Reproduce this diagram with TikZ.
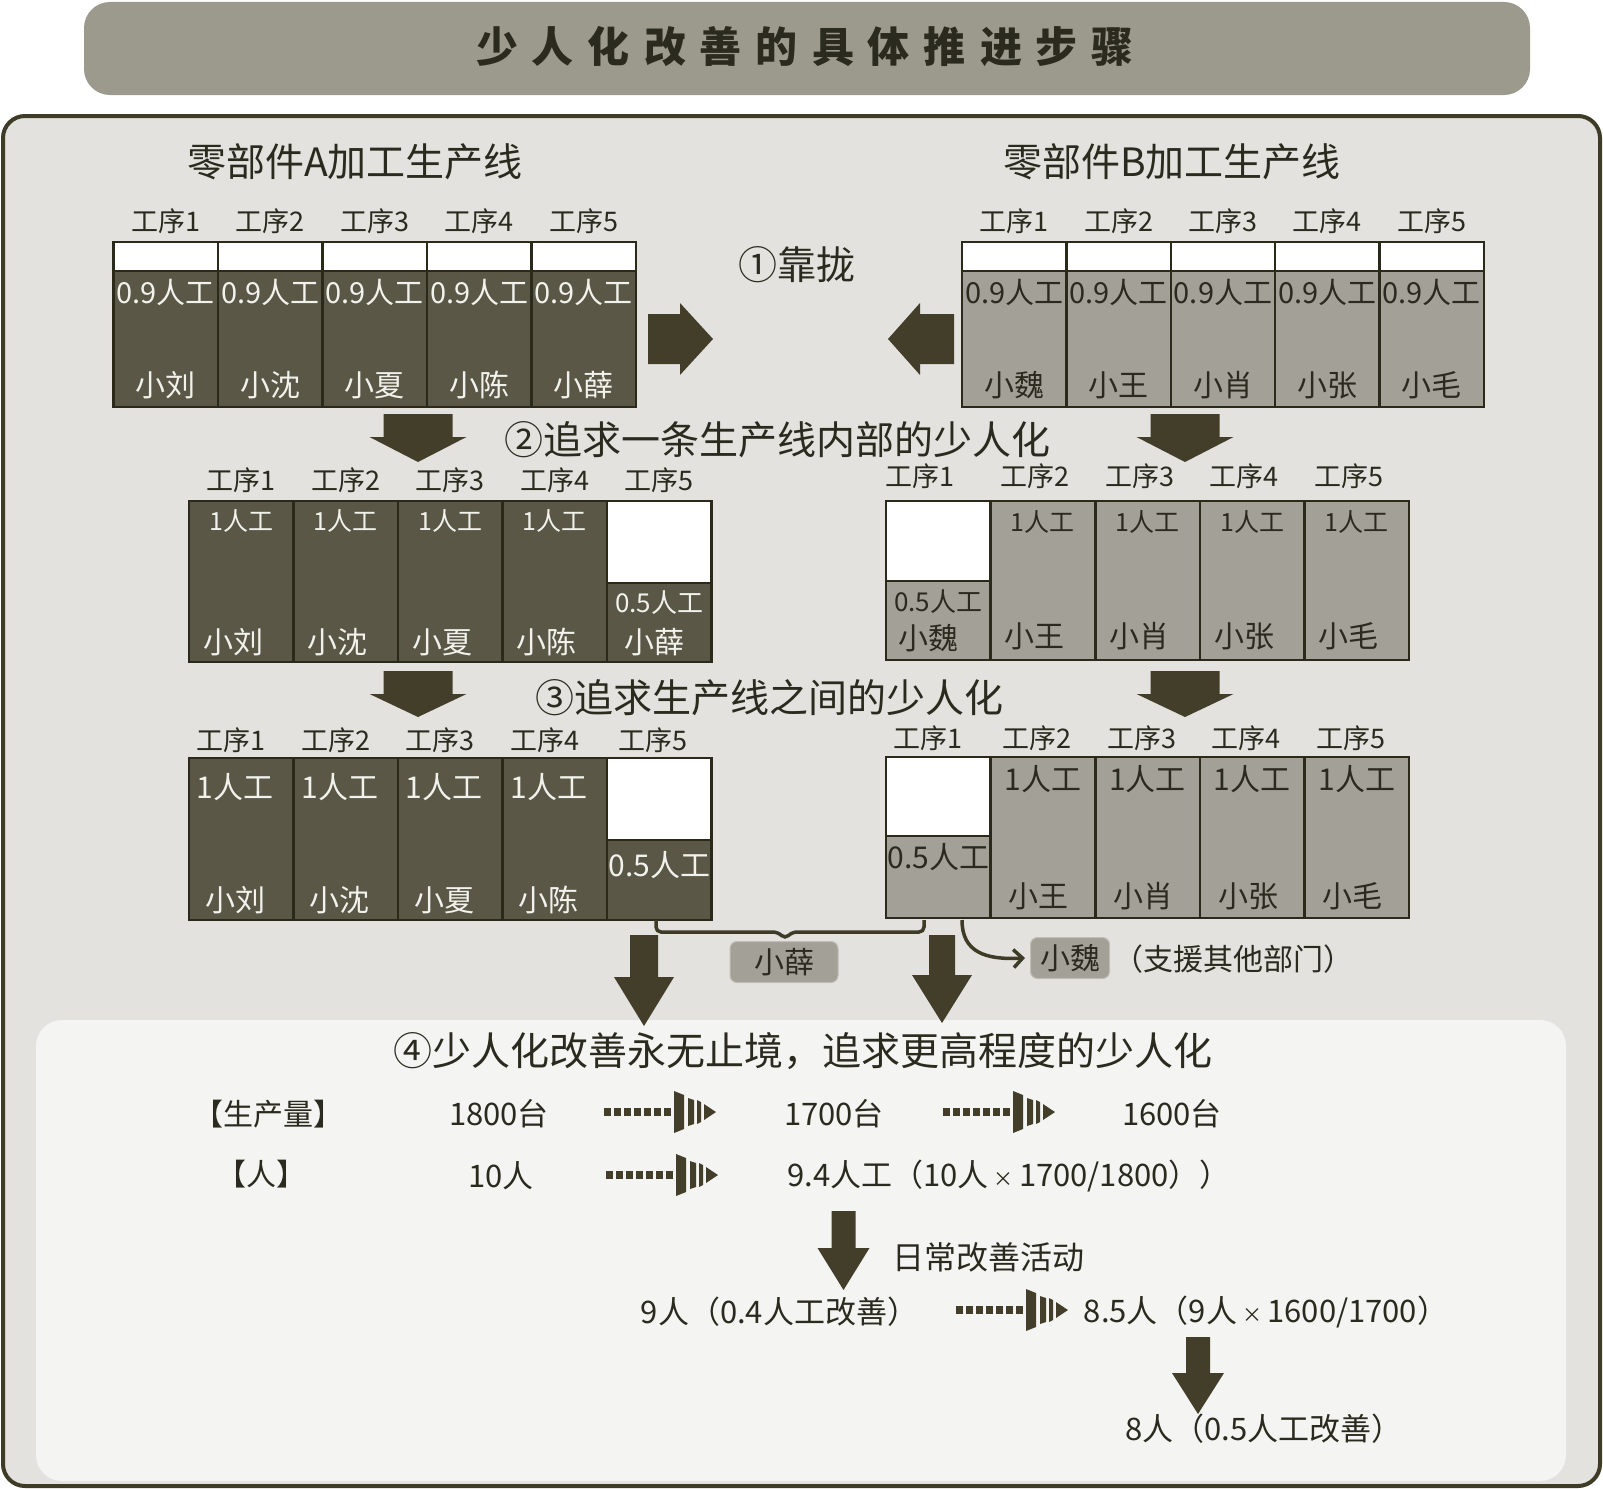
\documentclass[tikz,border=0pt]{standalone}
\usepackage{fontspec}
\setmainfont{Noto Sans CJK SC}
\usetikzlibrary{arrows.meta}
\definecolor{panelbg}{HTML}{E3E2DE}
\definecolor{lowbg}{HTML}{F4F4F2}
\definecolor{titlebg}{HTML}{9B9A8D}
\definecolor{olive}{HTML}{3E3B26}
\definecolor{cellline}{HTML}{2B2A1A}
\definecolor{darkcell}{HTML}{5A5747}
\definecolor{lightcell}{HTML}{A3A197}
\definecolor{txt}{HTML}{2B2A1F}
\definecolor{celltxt}{HTML}{F2F2EC}
\definecolor{arrowc}{HTML}{433E2A}
\newcommand{\fsz}[1]{\fontsize{#1}{#1}\selectfont}
\newcommand{\smtimes}{\,{\fsz{20}×}\,}
% block arrow pointing down: cx, top, headstart, tip, shaft half width, head half width
\newcommand{\blockdown}[6]{\fill[arrowc] (#1-#5,#2) -- (#1+#5,#2) -- (#1+#5,#3) -- (#1+#6,#3) -- (#1,#4) -- (#1-#6,#3) -- (#1-#5,#3) -- cycle;}
% dashed arrow: x0, cy
\newcommand{\dasharr}[2]{%
  \draw[arrowc, line width=8pt, dash pattern=on 7pt off 3pt] (#1,#2) -- (#1+69,#2);
  \fill[arrowc] (#1+70,#2-21) -- (#1+80,#2-17) -- (#1+80,#2+17) -- (#1+70,#2+21) -- cycle;
  \fill[arrowc] (#1+84,#2-14) -- (#1+90,#2-12) -- (#1+90,#2+12) -- (#1+84,#2+14) -- cycle;
  \fill[arrowc] (#1+93,#2-12) -- (#1+97,#2-10) -- (#1+97,#2+10) -- (#1+93,#2+12) -- cycle;
  \fill[arrowc] (#1+100,#2-8) -- (#1+112,#2) -- (#1+100,#2+8) -- cycle;}
\begin{document}
\begin{tikzpicture}[x=1pt,y=-1pt,
  cell/.style={draw=cellline, line width=2.5pt, minimum width=104.5pt, inner sep=0pt, outer sep=0pt, anchor=north},
  lbl/.style={font=\fsz{27}, text=txt, inner sep=0pt},
  wt/.style={text=celltxt, inner sep=0pt},
  dt/.style={text=txt, inner sep=0pt},
  head/.style={font=\fsz{39}, text=txt, inner sep=0pt},
  body/.style={font=\fsz{31}, text=txt, inner sep=0pt},
  tag/.style={fill=lightcell, rounded corners=7pt, draw=lightcell!70!white, line width=1pt, font=\fsz{30}, text=txt, inner sep=0pt, minimum height=41pt}]
\useasboundingbox (0,0) rectangle (1603,1488);
\fill[white] (0,0) rectangle (1603,1488);
% title bar
\fill[titlebg, rounded corners=26pt] (84,2) rectangle (1530,95);
\node[font=\fsz{42}\bfseries, text=txt, inner sep=0pt] (title) at (805,47)
 {少\hspace{14pt}人\hspace{14pt}化\hspace{14pt}改\hspace{14pt}善\hspace{14pt}的\hspace{14pt}具\hspace{14pt}体\hspace{14pt}推\hspace{14pt}进\hspace{14pt}步\hspace{14pt}骤};
% panels
\draw[olive, fill=panelbg, line width=4pt, rounded corners=22pt] (3,116) rectangle (1600,1486);
\fill[lowbg, rounded corners=26pt] (36,1020) rectangle (1566,1481);
% headings
\node[head] (hA) at (355,162) {零部件A加工生产线};
\node[head] (hB) at (1172,162) {零部件B加工生产线};
% ---------- Row 1 A
\foreach \i/\nm in {1/小刘,2/小沈,3/小夏,4/小陈,5/小薛}{
  \pgfmathsetmacro{\cx}{165.75+(\i-1)*104.5}
  \node[cell, fill=darkcell, minimum height=165pt] (a1c\i) at (\cx,242) {};
  \node[cell, fill=white, minimum height=29pt] (a1w\i) at (\cx,242) {};
  \node[lbl] (a1l\i) at (\cx,221) {工序\i};
  \node[wt, font=\fsz{29}] (a1p\i) at (\cx,292) {0.9人工};
  \node[wt, font=\fsz{30}] (a1n\i) at (\cx,385) {\nm};
}
% ---------- Row 1 B
\foreach \i/\nm in {1/小魏,2/小王,3/小肖,4/小张,5/小毛}{
  \pgfmathsetmacro{\cx}{1014.2+(\i-1)*104.4}
  \node[cell, fill=lightcell, minimum height=165pt] (b1c\i) at (\cx,242) {};
  \node[cell, fill=white, minimum height=29pt] (b1w\i) at (\cx,242) {};
  \node[lbl] (b1l\i) at (\cx,221) {工序\i};
  \node[dt, font=\fsz{29}] (b1p\i) at (\cx,292) {0.9人工};
  \node[dt, font=\fsz{30}] (b1n\i) at (\cx,385) {\nm};
}
% step 1
\node[head] (s1) at (797,265) {①靠拢};
\fill[arrowc] (648,314) -- (680,314) -- (680,303) -- (713,339) -- (680,375) -- (680,364) -- (648,364) -- cycle;
\fill[arrowc] (954,314) -- (920,314) -- (920,303) -- (888,339) -- (920,375) -- (920,364) -- (954,364) -- cycle;
% down arrows 1->2
\blockdown{418}{414}{437}{462}{34.5}{48.5}
\blockdown{1185}{414}{437}{462}{34.5}{48.5}
\node[head] (s2) at (777,440) {②追求一条生产线内部的少人化};
% ---------- Row 2 A
\foreach \i/\nm in {1/小刘,2/小沈,3/小夏,4/小陈}{
  \pgfmathsetmacro{\cx}{241.25+(\i-1)*104.5}
  \node[cell, fill=darkcell, minimum height=161pt] (a2c\i) at (\cx,501) {};
  \node[lbl] (a2l\i) at (\cx,480) {工序\i};
  \node[wt, font=\fsz{25}] (a2p\i) at (\cx,521) {1人工};
  \node[wt, font=\fsz{30}] (a2n\i) at (\cx-8,642) {\nm};
}
\node[cell, fill=darkcell, minimum height=161pt] (a2c5) at (659.25,501) {};
\node[cell, fill=white, minimum height=82pt] (a2w5) at (659.25,501) {};
\node[lbl] (a2l5) at (659.25,480) {工序5};
\node[wt, font=\fsz{26}] (a2p5) at (659.25,603) {0.5人工};
\node[wt, font=\fsz{30}] (a2n5) at (654,642) {小薛};
% ---------- Row 2 B
\node[cell, fill=lightcell, minimum height=159pt] (b2c1) at (938.3,501) {};
\node[cell, fill=white, minimum height=80pt] (b2w1) at (938.3,501) {};
\node[lbl] (b2l1) at (920,476) {工序1};
\node[dt, font=\fsz{26}] (b2p1) at (938.3,602) {0.5人工};
\node[dt, font=\fsz{30}] (b2n1) at (928,638) {小魏};
\foreach \i/\nm in {2/小王,3/小肖,4/小张,5/小毛}{
  \pgfmathsetmacro{\cx}{938.3+(\i-1)*104.6}
  \node[cell, fill=lightcell, minimum height=159pt] (b2c\i) at (\cx,501) {};
  \node[lbl] (b2l\i) at (\cx-8,476) {工序\i};
  \node[dt, font=\fsz{25}] (b2p\i) at (\cx,522) {1人工};
  \node[dt, font=\fsz{30}] (b2n\i) at (\cx-8,636) {\nm};
}
% down arrows 2->3
\blockdown{418}{671}{694}{717}{34.5}{48.5}
\blockdown{1185}{671}{694}{717}{34.5}{48.5}
\node[head] (s3) at (769,698) {③追求生产线之间的少人化};
% ---------- Row 3 A
\foreach \i/\nm in {1/小刘,2/小沈,3/小夏,4/小陈}{
  \pgfmathsetmacro{\cx}{241.25+(\i-1)*104.5}
  \node[cell, fill=darkcell, minimum height=162pt] (a3c\i) at (\cx,758) {};
  \node[lbl] (a3l\i) at (\cx-10,740) {工序\i};
  \node[wt, font=\fsz{30}] (a3p\i) at (\cx-6,787) {1人工};
  \node[wt, font=\fsz{30}] (a3n\i) at (\cx-6,900) {\nm};
}
\node[cell, fill=darkcell, minimum height=162pt] (a3c5) at (659.25,758) {};
\node[cell, fill=white, minimum height=82pt] (a3w5) at (659.25,758) {};
\node[lbl] (a3l5) at (653,740) {工序5};
\node[wt, font=\fsz{30}] (a3p5) at (659.25,865) {0.5人工};
% ---------- Row 3 B
\node[cell, fill=lightcell, minimum height=161pt] (b3c1) at (938.3,757) {};
\node[cell, fill=white, minimum height=79pt] (b3w1) at (938.3,757) {};
\node[lbl] (b3l1) at (928,738) {工序1};
\node[dt, font=\fsz{30}] (b3p1) at (938.3,857) {0.5人工};
\foreach \i/\nm in {2/小王,3/小肖,4/小张,5/小毛}{
  \pgfmathsetmacro{\cx}{938.3+(\i-1)*104.6}
  \node[cell, fill=lightcell, minimum height=161pt] (b3c\i) at (\cx,757) {};
  \node[lbl] (b3l\i) at (\cx-6,738) {工序\i};
  \node[dt, font=\fsz{30}] (b3p\i) at (\cx,779) {1人工};
  \node[dt, font=\fsz{30}] (b3n\i) at (\cx-4,896) {\nm};
}
% brace and tags
\draw[olive, line width=3.5pt, rounded corners=5pt] (656,920) -- (656,932) -- (778,932) -- (785,939) -- (792,932) -- (924,932) -- (924,920);
\node[tag, minimum width=108pt] (xue) at (784,962) {小薛};
\node[tag, minimum width=79pt] (wei) at (1070,958) {小魏};
\node[font=\fsz{30}, text=txt, inner sep=0pt, anchor=west] (wei2) at (1113,959) {（支援其他部门）};
\coordinate (weistart) at (962,920);
\draw[olive, line width=3.5pt, -{Straight Barb[length=9pt,width=18pt,line width=3.5pt]}] (weistart) .. controls (962,952) and (985,960) .. ([xshift=-5pt]wei.west);
% arrows into lower panel
\blockdown{644}{935}{977}{1026}{14}{30}
\blockdown{942}{935}{975}{1023}{13}{30}
% ---------- lower panel
\node[head] (s4) at (803,1051) {④少人化改善永无止境，追求更高程度的少人化};
\node[body, font=\fsz{30}] (kprod) at (268,1114) {【生产量】};
\node[body, font=\fsz{30}] (kppl) at (261,1174) {【人】};
\node[body] (p1) at (499,1114) {1800台};
\node[body] (p2) at (834,1114) {1700台};
\node[body] (p3) at (1172,1114) {1600台};
\dasharr{604}{1112}
\dasharr{943}{1112}
\node[body] (m1) at (501,1176) {10人};
\dasharr{606}{1175}
\node[body] (m2) at (1009,1176) {9.4人工（10人\smtimes1700/1800））};
\blockdown{843.5}{1211}{1248}{1290}{12}{26}
\node[body, font=\fsz{32}, anchor=west] (daily) at (892,1257) {日常改善活动};
\node[body] (m3) at (779.5,1312) {9人（0.4人工改善）};
\dasharr{956}{1310}
\node[body] (m4) at (1266,1312) {8.5人（9人\smtimes1600/1700）};
\blockdown{1198}{1337}{1373}{1414}{12}{26}
\node[body] (m5) at (1264,1429) {8人（0.5人工改善）};
\end{tikzpicture}
\end{document}
